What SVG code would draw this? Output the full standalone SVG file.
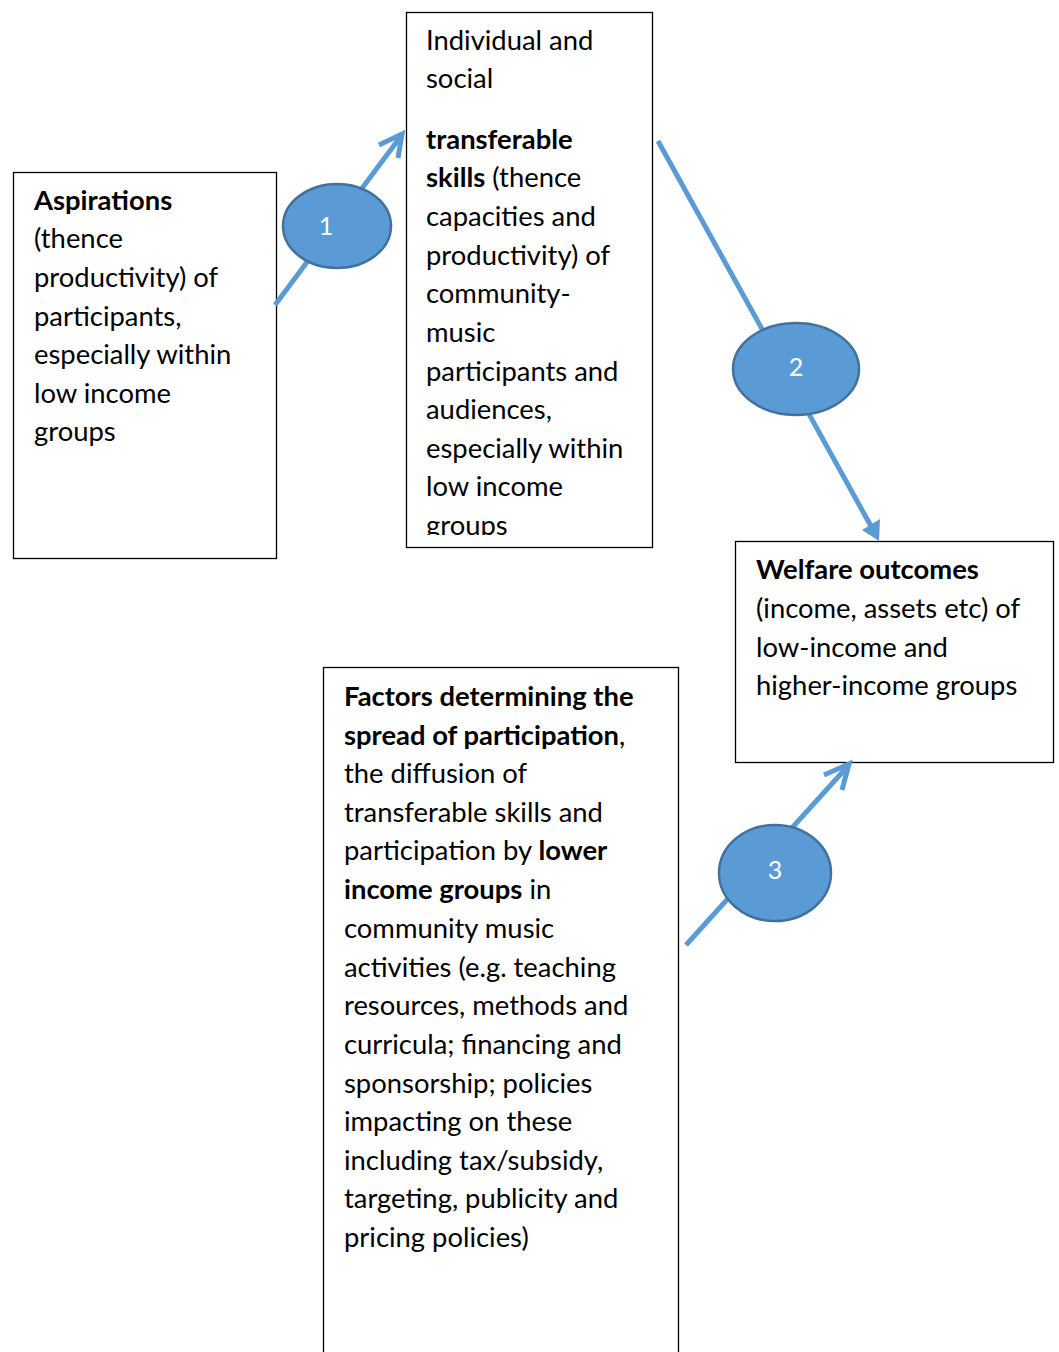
<svg xmlns="http://www.w3.org/2000/svg" width="1059" height="1352" viewBox="0 0 1059 1352">
<style>
.box{fill:#fff;stroke:#000;stroke-width:1.3}
.t{font-family:Lato,"Liberation Sans",sans-serif;font-size:27.4px;fill:#000}
.b{font-weight:bold}
.conn{stroke:#5B9BD5;stroke-width:5;fill:none}
.ell{fill:#5B9BD5;stroke:#41719C;stroke-width:2.5}
.num{font-family:Lato,"Liberation Sans",sans-serif;font-size:25px;fill:#fff;text-anchor:middle}
</style>
<defs>
<clipPath id="cb"><rect x="406" y="12" width="246" height="523"/></clipPath>
</defs>
<rect width="1059" height="1352" fill="#fff"/>
<g id="nodeA">
<rect class="box" x="13.5" y="172.5" width="263" height="386"/>
<text class="t" x="34"><tspan class="b" x="34" y="210">Aspirations</tspan><tspan x="34" y="248">(thence</tspan><tspan x="34" y="287">productivity) of</tspan><tspan x="34" y="326">participants,</tspan><tspan x="34" y="364">especially within</tspan><tspan x="34" y="403">low income</tspan><tspan x="34" y="441">groups</tspan></text>
</g>
<g id="nodeB">
<rect class="box" x="406.5" y="12.5" width="246" height="535"/>
<text class="t" clip-path="url(#cb)"><tspan x="426" y="50">Individual and</tspan><tspan x="426" y="88">social</tspan><tspan class="b" x="426" y="149">transferable</tspan><tspan x="426" y="187"><tspan class="b">skills</tspan> (thence</tspan><tspan x="426" y="226">capacities and</tspan><tspan x="426" y="265">productivity) of</tspan><tspan x="426" y="303">community-</tspan><tspan x="426" y="342">music</tspan><tspan x="426" y="381">participants and</tspan><tspan x="426" y="419">audiences,</tspan><tspan x="426" y="458">especially within</tspan><tspan x="426" y="496">low income</tspan><tspan x="426" y="535">groups</tspan></text>
</g>
<g id="nodeC">
<rect class="box" x="735.5" y="541.5" width="318" height="221"/>
<text class="t"><tspan class="b" x="756" y="579">Welfare outcomes</tspan><tspan x="756" y="618">(income, assets etc) of</tspan><tspan x="756" y="657">low-income and</tspan><tspan x="756" y="695">higher-income groups</tspan></text>
</g>
<g id="nodeD">
<rect class="box" x="323.5" y="667.5" width="355" height="700"/>
<text class="t"><tspan class="b" x="344" y="706">Factors determining the</tspan><tspan x="344" y="745"><tspan class="b">spread of participation</tspan>,</tspan><tspan x="344" y="783">the diffusion of</tspan><tspan x="344" y="822">transferable skills and</tspan><tspan x="344" y="860">participation by <tspan class="b">lower</tspan></tspan><tspan x="344" y="899"><tspan class="b">income groups</tspan> in</tspan><tspan x="344" y="938">community music</tspan><tspan x="344" y="977">activities (e.g. teaching</tspan><tspan x="344" y="1015">resources, methods and</tspan><tspan x="344" y="1054">curricula; financing and</tspan><tspan x="344" y="1093">sponsorship; policies</tspan><tspan x="344" y="1131">impacting on these</tspan><tspan x="344" y="1170">including tax/subsidy,</tspan><tspan x="344" y="1208">targeting, publicity and</tspan><tspan x="344" y="1247">pricing policies)</tspan></text>
</g>
<g id="connectors">
<line class="conn" x1="275" y1="305" x2="401" y2="136"/>
<polyline class="conn" points="379,145 402,134 398,158" stroke-linejoin="miter"/>
<line class="conn" x1="658" y1="141" x2="872" y2="528"/>
<polygon points="879,541 862,530 880,519" fill="#5B9BD5"/>
<line class="conn" x1="686" y1="945" x2="848" y2="766"/>
<polyline class="conn" points="824,775 849,764 842,790"/>
</g>
<g id="e1"><ellipse class="ell" cx="337" cy="226" rx="54" ry="42"/><text class="num" x="326" y="235">1</text></g>
<g id="e2"><ellipse class="ell" cx="796" cy="369" rx="63" ry="46"/><text class="num" x="796" y="376">2</text></g>
<g id="e3"><ellipse class="ell" cx="775" cy="873" rx="56" ry="48"/><text class="num" x="775" y="879">3</text></g>
</svg>
